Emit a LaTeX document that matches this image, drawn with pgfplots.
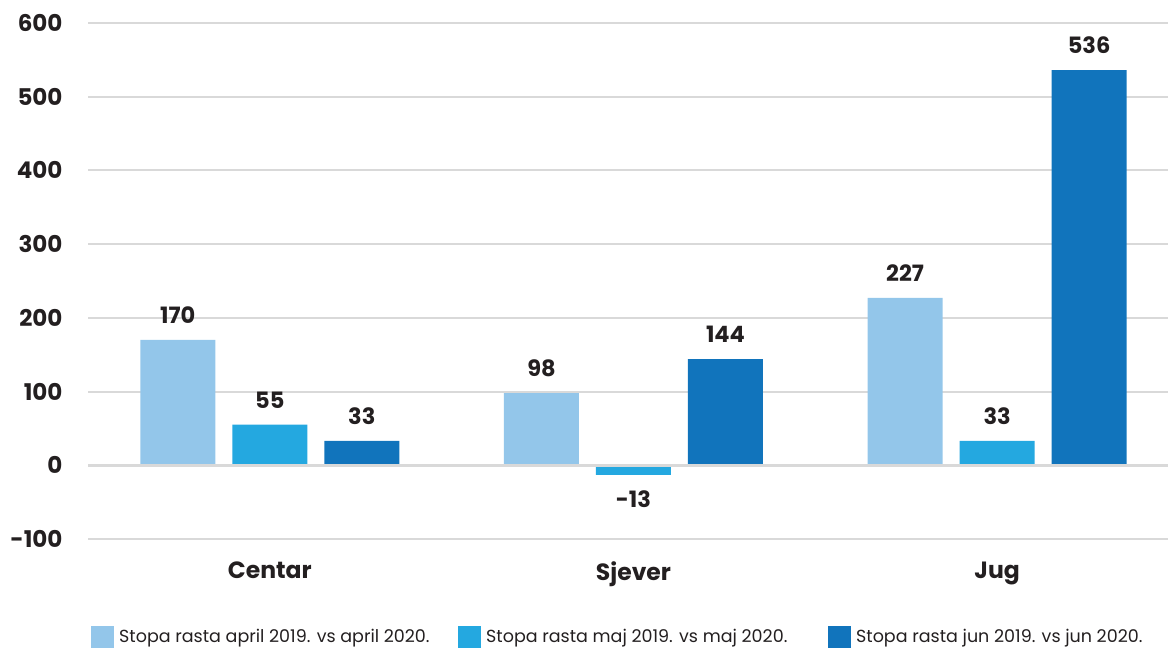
\documentclass[border=0pt]{standalone}
\usepackage{pgfplots}
\pgfplotsset{compat=1.18}
\usepackage{fontspec}
\setmainfont{Poppins}

\definecolor{aprilc}{HTML}{93C6EA}
\definecolor{majc}{HTML}{24A8E0}
\definecolor{junc}{HTML}{1174BC}
\definecolor{gridc}{HTML}{D9D9D9}
\definecolor{txt}{HTML}{231F20}

\begin{document}
\begin{tikzpicture}
\useasboundingbox (0,0) rectangle (1168bp,648bp);
\begin{axis}[
  at={(88bp,109bp)}, anchor=south west,
  scale only axis, width=1080bp, height=516bp,
  ymin=-100, ymax=600, ytick={-100,0,...,600},
  xmin=-0.5, xmax=2.47,
  xtick={0,1,2}, xticklabels={Centar,Sjever,Jug},
  axis line style={draw=none},
  major tick length=0pt,
  ymajorgrids, grid style={gridc, line width=2bp},
  /pgf/number format/assume math mode=true,
  /pgf/number format/1000 sep={},
  yticklabel style={font=\fontsize{23bp}{26bp}\selectfont\bfseries, text=txt, anchor=east, xshift=-22bp},
  xticklabel style={font=\fontsize{23.5bp}{27bp}\selectfont\bfseries, text=txt, anchor=north, yshift=-19bp},
  ybar, bar width=75bp,
  nodes near coords,
  nodes near coords align={vertical},
  every node near coord/.append style={font=\fontsize{22.5bp}{25bp}\selectfont\bfseries, text=txt, inner sep=16bp},
  legend columns=3,
  legend style={draw=none, fill=none, at={(0bp,-98bp)}, anchor=west,
    font=\fontsize{17.5bp}{20bp}\selectfont, text=txt,
    /tikz/every even column/.append style={column sep=0bp}},
  legend image code/.code={\fill[#1] (0bp,-11bp) rectangle (23bp,11bp);},
  clip=false,
]
\addplot[fill=aprilc, draw=none, bar shift=-92bp] coordinates {(0,170) (1,98) (2,227)};
\addplot[fill=majc, draw=none, bar shift=0bp] coordinates {(0,55) (1,-13) (2,33)};
\addplot[fill=junc, draw=none, bar shift=92bp] coordinates {(0,33) (1,144) (2,536)};
% zero line drawn over the bar bases
\draw[gridc, line width=3.2bp] (axis cs:-0.5,0) -- (axis cs:2.47,0);
\legend{\makebox[340bp][l]{\hspace*{3bp}Stopa rasta april 2019. vs april 2020.},\makebox[343bp][l]{\hspace*{3bp}Stopa rasta maj 2019. vs maj 2020.},\hspace*{3bp}Stopa rasta jun 2019. vs jun 2020.}
\end{axis}
\end{tikzpicture}
\end{document}
